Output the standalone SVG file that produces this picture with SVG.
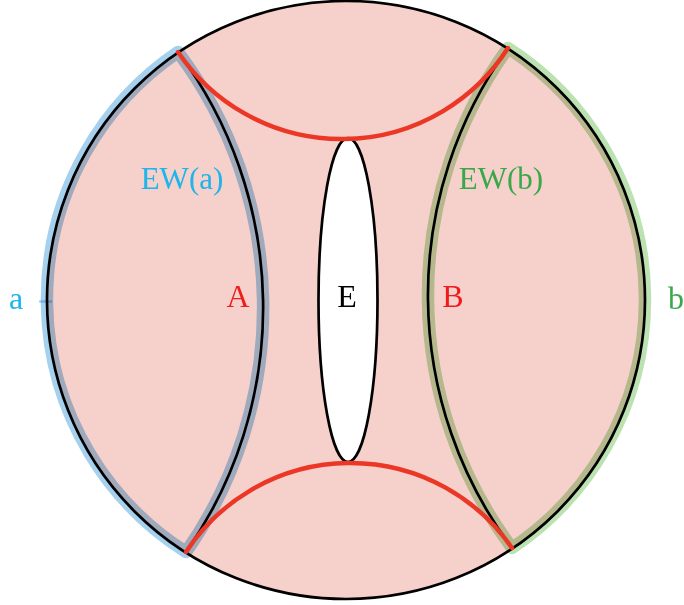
<svg xmlns="http://www.w3.org/2000/svg" width="684" height="605" viewBox="0 0 684 605">
<style>
.band{fill:none;stroke-width:12.5;stroke-linejoin:round;stroke-linecap:round;mix-blend-mode:multiply}
.blue{stroke:#a6d1ee}
.green{stroke:#bce2b1}
.blk{fill:none;stroke:#000;stroke-width:2.7}
.red{fill:none;stroke:#ec3726;stroke-width:4.4;stroke-linecap:round}
text{font-family:"Liberation Serif","DejaVu Serif",serif;font-size:32px;text-anchor:middle}
.ew{font-size:31px}
</style>
<rect width="684" height="605" fill="#fff"/>
<g id="disk">
<circle cx="346" cy="300" r="299" fill="#f6d0cb"/>
</g>
<g id="EW-a">
<path class="band blue" d="M178,52 A299,299 0 0 0 186,552 A426,426 0 0 0 178,52 Z"/>
<path class="band blue" style="stroke-width:2.2;stroke-linecap:butt" d="M39,301.5 H52"/>
</g>
<g id="EW-b">
<path class="band green" d="M508,48 A299,299 0 0 1 512,548 A422,422 0 0 1 508,48 Z"/>
</g>
<g id="boundary">
<circle class="blk" cx="346" cy="300" r="299"/>
</g>
<g id="E">
<ellipse cx="348" cy="300" rx="29.5" ry="162" fill="#fff" stroke="#000" stroke-width="2.7"/>
</g>
<g id="connectors">
<path id="arcA" class="blk" d="M178,52 A426,426 0 0 1 186,552"/>
<path id="arcB" class="blk" d="M508,48 A422,422 0 0 0 512,548"/>
<path id="arcTop" class="red" d="M178,52 A197.4,197.4 0 0 0 508,48"/>
<path id="arcBottom" class="red" d="M186,552 A196.2,196.2 0 0 1 512,548"/>
</g>
<g id="labels">
<text x="16" y="309" fill="#1cb5ec">a</text>
<text x="676" y="309" fill="#3aa84a">b</text>
<text x="238" y="307" fill="#ee1c1c">A</text>
<text x="453" y="307" fill="#ee1c1c">B</text>
<text x="347" y="307" fill="#000">E</text>
<text class="ew" x="182" y="189" fill="#1cb5ec">EW(a)</text>
<text class="ew" x="501" y="189" fill="#3aa84a">EW(b)</text>
</g>
</svg>
